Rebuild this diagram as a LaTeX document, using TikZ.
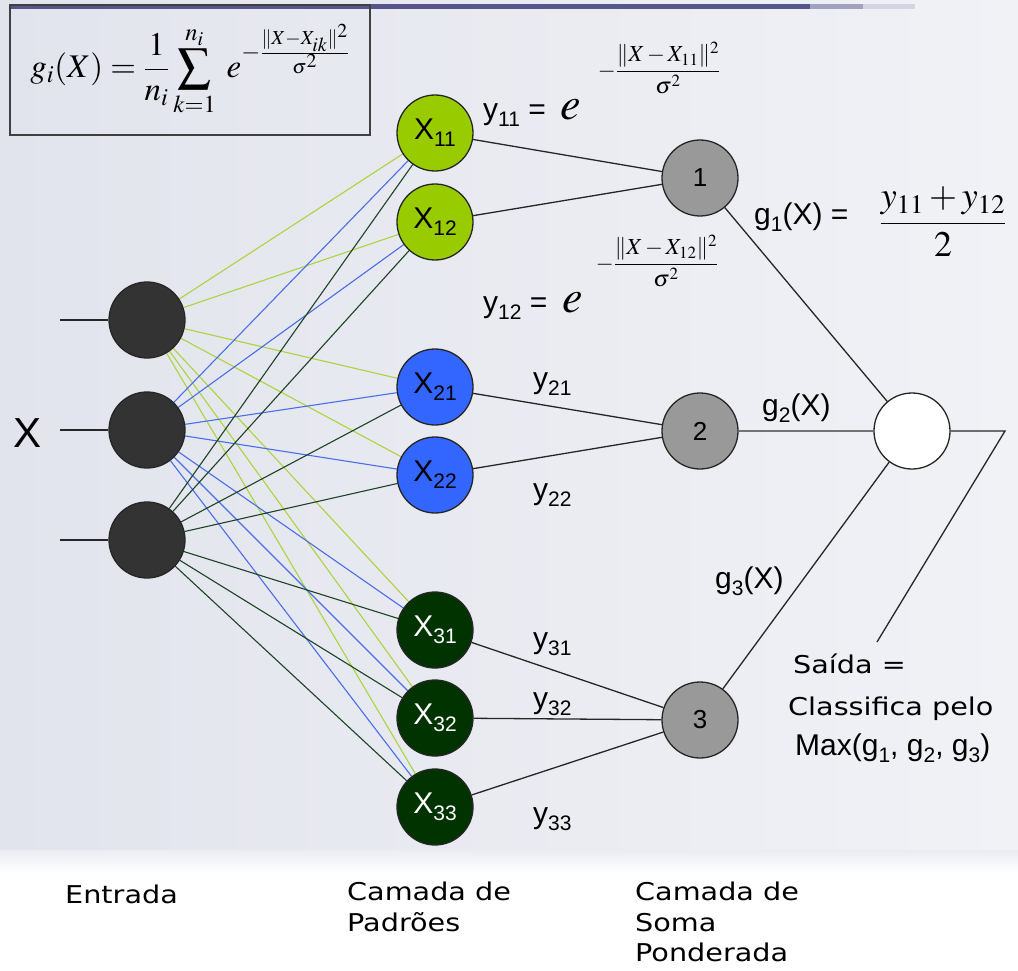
\documentclass[tikz,border=0pt]{standalone}
\usepackage{amsmath}
\usepackage{mathptmx}
\usepackage{fontspec}
\usetikzlibrary{backgrounds}
\newfontfamily\arialf{Liberation Sans}
\newfontfamily\dejaf[FakeStretch=1.17]{DejaVu Sans}
\definecolor{bgleft}{RGB}{226,228,237}
\definecolor{bgright}{RGB}{241,242,246}
\definecolor{bgmid}{RGB}{234,236,242}
\definecolor{barcol}{RGB}{86,86,140}
\definecolor{inpfill}{RGB}{51,51,51}
\definecolor{limefill}{RGB}{153,204,0}
\definecolor{bluefill}{RGB}{51,102,255}
\definecolor{darkfill}{RGB}{0,51,0}
\definecolor{sumfill}{RGB}{153,153,153}
\definecolor{limewire}{RGB}{172,212,60}
\definecolor{bluewire}{RGB}{72,110,232}
\definecolor{darkwire}{RGB}{30,66,36}
% subscript in the sans labels
\newcommand{\idx}[1]{\raisebox{-7pt}{\fontsize{21}{21}\selectfont #1}}

\begin{document}
\begin{tikzpicture}[x=1pt,y=-1pt,
  neuron/.style={circle,minimum size=76pt,inner sep=0pt,draw=black!85,line width=1.3pt},
  inpt/.style={neuron,fill=inpfill},
  patt/.style={neuron,fill=#1,font=\arialf\fontsize{30}{30}\selectfont},
  summ/.style={neuron,fill=sumfill,font=\arialf\fontsize{26}{26}\selectfont},
  outn/.style={neuron,fill=white},
  wire/.style={draw=#1,line width=1.1pt},
  link/.style={draw=black!85,line width=1.3pt},
  lbl/.style={font=\arialf\fontsize{30}{30}\selectfont,inner sep=0pt},
  expo/.style={inner sep=0pt,font=\fontsize{23}{23}\selectfont},
  note/.style={font=\dejaf\fontsize{24.5}{30.5}\selectfont,inner sep=0pt,align=left}]
\useasboundingbox (0,0) rectangle (1018,971);

% Formula box
\node[draw=black!75,line width=2pt,minimum width=360pt,minimum height=130pt,
  inner sep=0pt,font=\fontsize{33}{33}\selectfont] (gform) at (190,70)
  {$\displaystyle g_i(X)=\frac{1}{n_i}\sum_{k=1}^{n_i}\;e^{-\frac{\|X-X_{ik}\|^2}{\sigma^2}}$};

% Input layer
\foreach \i/\y in {1/320,2/430,3/540} {
  \node[inpt] (in\i) at (147,\y) {};
  \coordinate (st\i) at (60,\y);
}
\node[font=\arialf\fontsize{42}{42}\selectfont,inner sep=0pt] (xin) at (28,433) {X};

% Pattern layer
\foreach \p/\y/\c in {11/133/limefill,12/222/limefill,21/387/bluefill,22/475/bluefill} {
  \node[patt=\c] (x\p) at (435,\y) {X\idx{\p}};
}
\foreach \p/\y in {31/630,32/718,33/807} {
  \node[patt=darkfill,text=white] (x\p) at (435,\y) {X\idx{\p}};
}

% Summation layer and output
\node[summ] (s1) at (700,178) {1};
\node[summ] (s2) at (700,431) {2};
\node[summ] (s3) at (700,720) {3};
\node[outn] (outn) at (912,431) {};
\coordinate (corner) at (1005,431);
\coordinate (tip) at (877,642);

% Connectors
\begin{scope}[on background layer]
  \shade[left color=bgleft,right color=bgright] (0,0) rectangle (1018,850);
  \shade[top color=bgmid,bottom color=white] (0,850) rectangle (1018,872);
  \fill[barcol] (10,4) rectangle (810,9);
  \fill[barcol!55] (810,4) rectangle (863,9);
  \fill[barcol!25] (863,4) rectangle (915,9);
  \foreach \i/\c in {1/limewire,2/bluewire,3/darkwire}
    \foreach \p in {11,12,21,22,31,32,33}
      \draw[wire=\c] (in\i) -- (x\p);
  \foreach \i in {1,2,3}
    \draw[link,line width=2pt] (st\i) -- (in\i);
  \foreach \p/\s in {11/1,12/1,21/2,22/2,31/3,32/3,33/3}
    \draw[link] (x\p) -- (s\s);
  \draw[link] (s1) -- (outn);
  \draw[link,draw=black!55,line width=2pt] (s2) -- (outn);
  \draw[link] (s3) -- (outn);
  \draw[link] (outn) -- (corner) -- (tip);
\end{scope}

% Edge labels
\node[lbl,anchor=base west] (y11) at (483,120)
  {y\idx{11} =\hspace{15pt}{\fontsize{46}{46}\selectfont$e$}};
\node[expo] (e11) at (659,68)
  {$\medmuskip=2mu -\dfrac{\|X-X_{11}\|^2}{\sigma^2}$};
\node[lbl,anchor=base west] (y12) at (483,312)
  {y\idx{12} =\hspace{15pt}{\fontsize{46}{46}\selectfont$e$}};
\node[expo] (e12) at (657,261)
  {$\medmuskip=2mu -\dfrac{\|X-X_{12}\|^2}{\sigma^2}$};
\foreach \p/\y in {21/388,22/499,31/648,32/708,33/823}
  \node[lbl,anchor=base west] (y\p) at (533,\y) {y\idx{\p}};
\node[lbl,anchor=base west] (g1) at (754,224) {g\idx{1}(X) =};
\node[inner sep=0pt,font=\fontsize{36}{36}\selectfont] (g1frac) at (943,222)
  {$\dfrac{y_{11}+y_{12}}{2}$};
\node[lbl,anchor=base west] (g2) at (762,415) {g\idx{2}(X)};
\node[lbl,anchor=base west] (g3) at (715,588) {g\idx{3}(X)};

% Output text
\node[note,anchor=base west] (saida) at (793,673) {Saída =};
\node[note,anchor=base west] (classif) at (788,715) {Classifica pelo};
\node[lbl,anchor=base west] (maxg) at (795,755) {Max(g\idx{1}, g\idx{2}, g\idx{3})};

% Layer names
\node[note,anchor=base west] (entrada) at (65,903) {Entrada};
\node[note,anchor=north west] (padroes) at (347,882) {Camada de\\Padrões};
\node[note,anchor=north west] (soma) at (635,882) {Camada de\\Soma\\Ponderada};
\end{tikzpicture}
\end{document}
